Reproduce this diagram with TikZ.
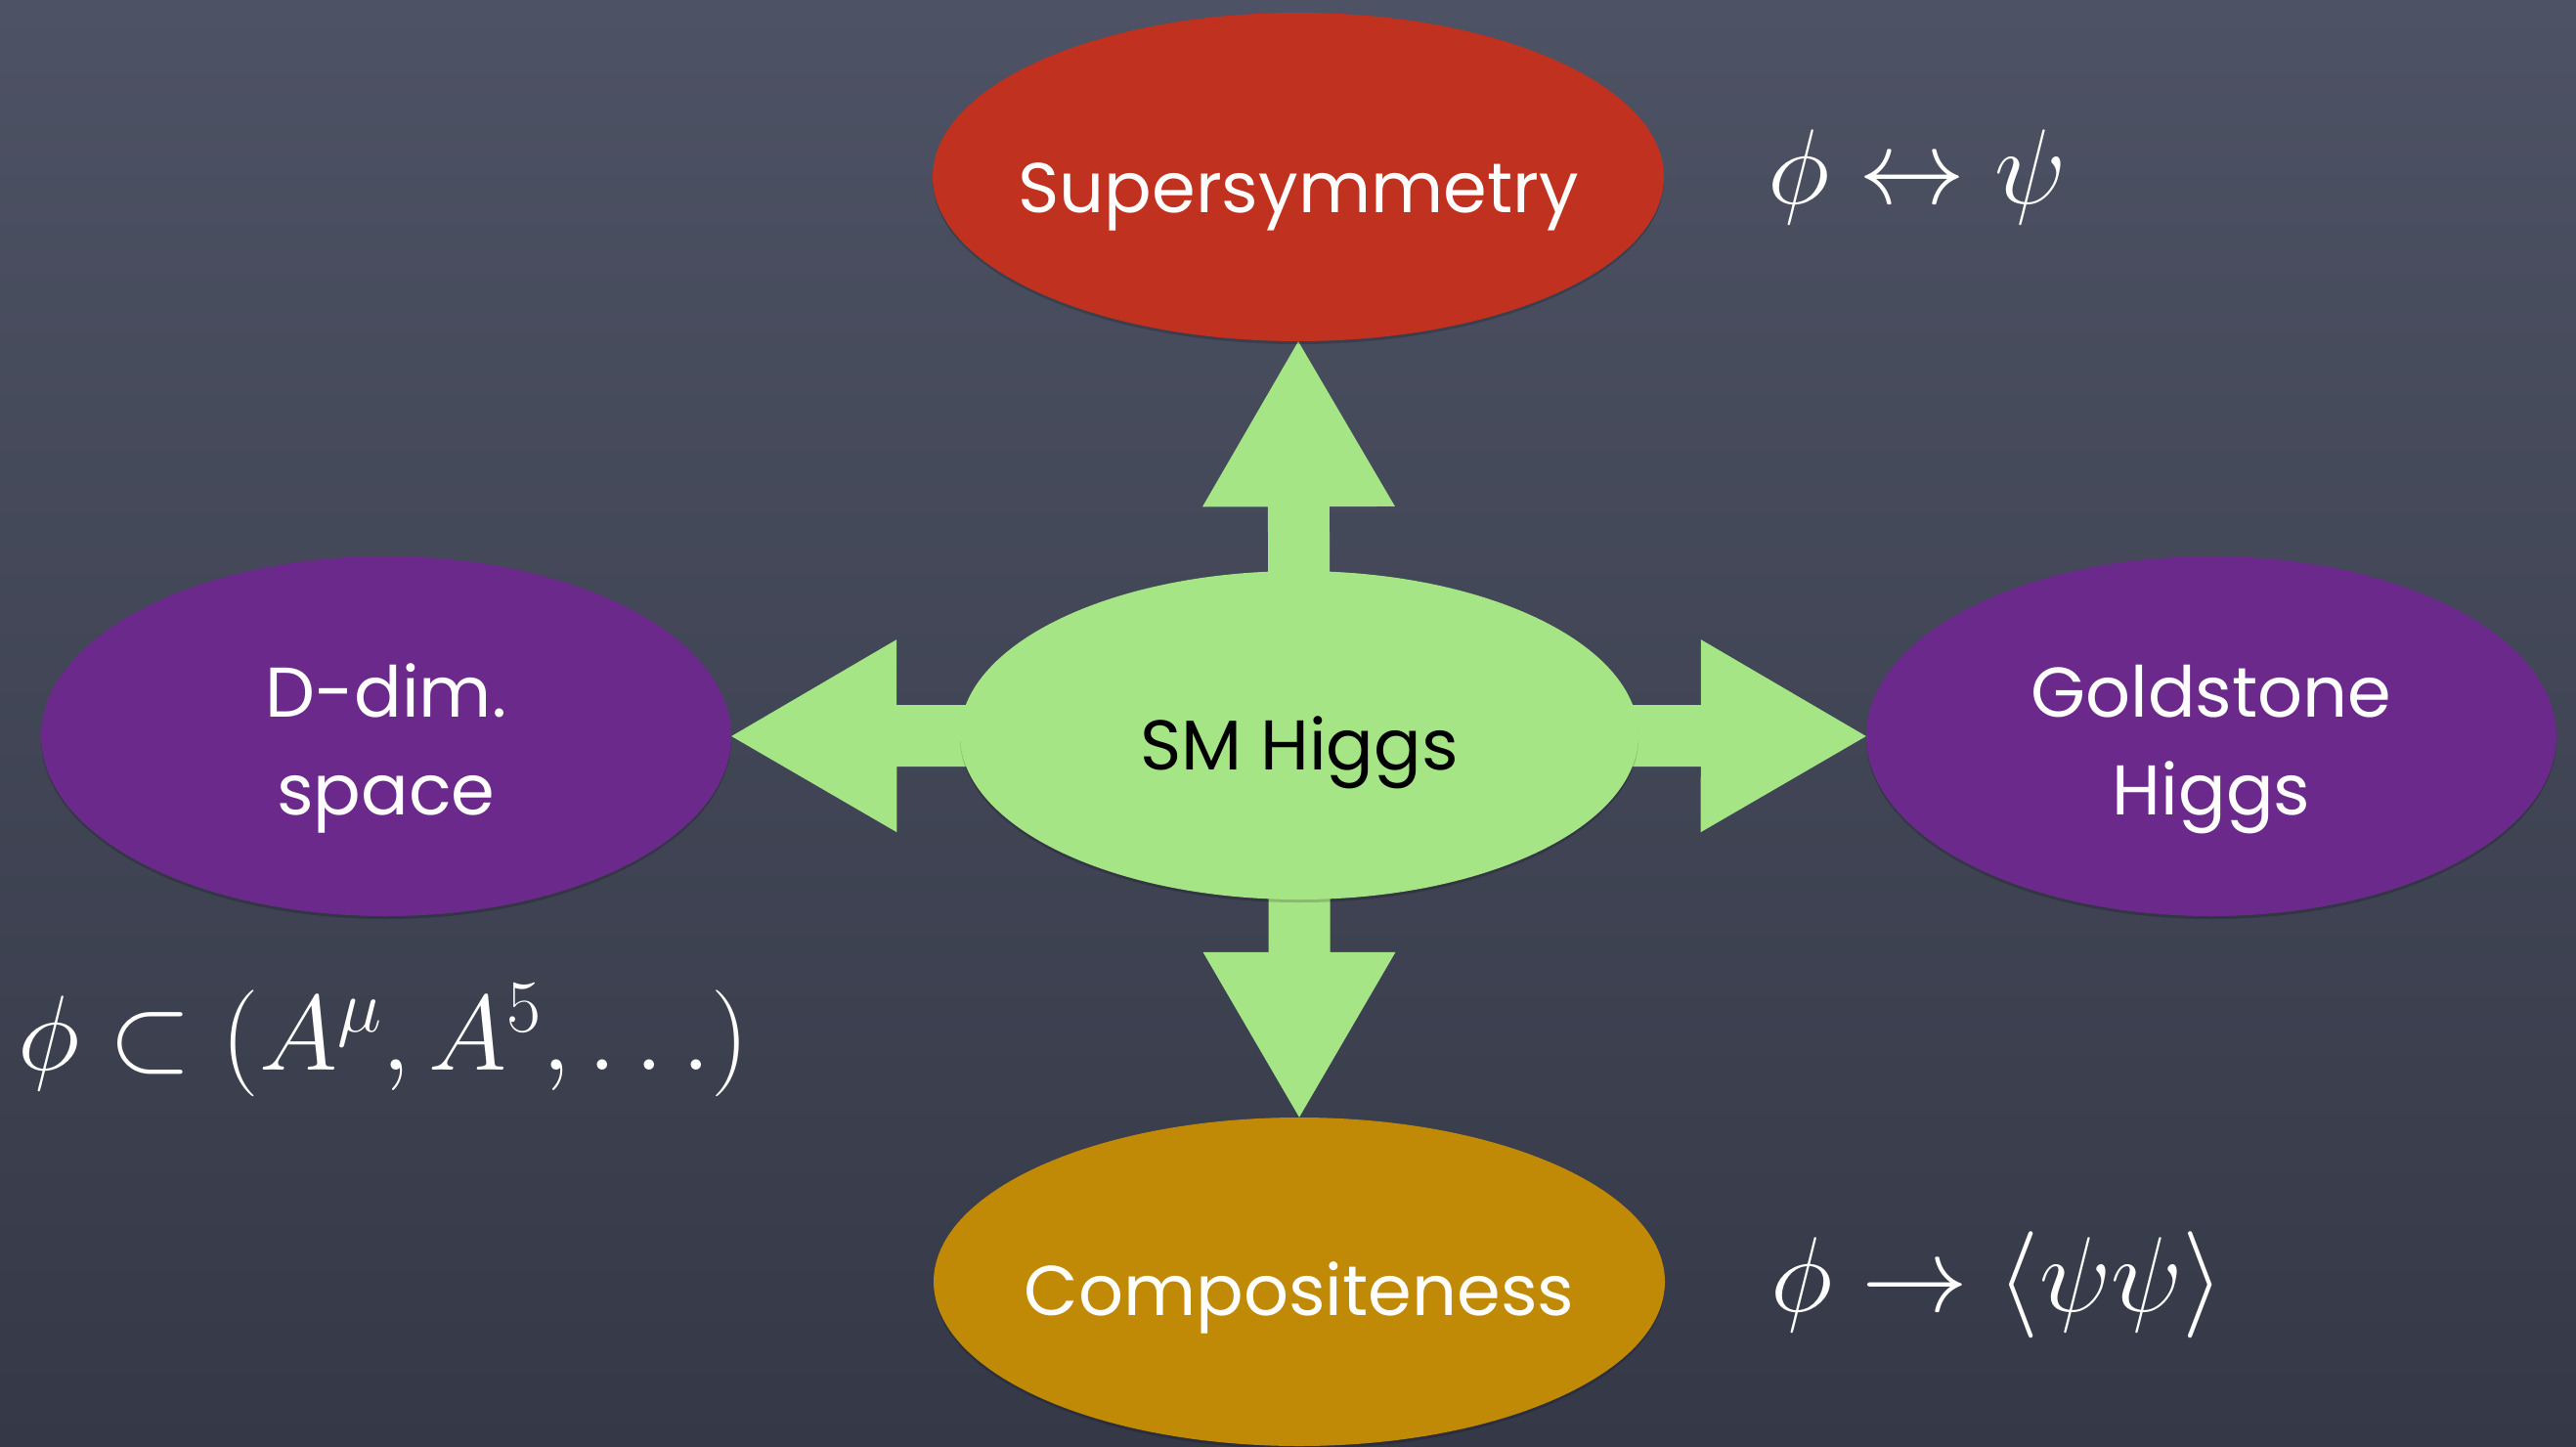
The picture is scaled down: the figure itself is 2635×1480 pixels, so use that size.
\RequirePackage{fix-cm}
\documentclass[tikz,border=0pt]{standalone}
\usepackage{fontspec}
\setmainfont{Poppins}
\usetikzlibrary{calc,shapes.geometric,shadows}
\pgfdeclarelayer{bg}
\pgfdeclarelayer{arr}
\pgfsetlayers{bg,arr,main}
\definecolor{boardtop}{HTML}{4D5264}
\definecolor{boardbot}{HTML}{353947}
\definecolor{susyred}{HTML}{C0321F}
\definecolor{higgsgreen}{HTML}{A6E585}
\definecolor{dimpurple}{HTML}{6B2A8B}
\definecolor{compgold}{HTML}{C18A06}
\newcommand\ellabel[2]{\raisebox{#1}[0pt][0pt]{\makebox[0pt]{#2}}}
\newcommand\twolines[2]{\begin{tabular}[t]{@{}c@{}}#1\\#2\end{tabular}}
\newcommand\fatarrow[2]{%
  \path (#2) coordinate (T) ($(#2)!169pt!(#1)$) coordinate (H);
  \fill[arrowfill] ($(#1)!31.5pt!90:(T)$) -- ($(H)!31.5pt!90:(T)$) -- ($(H)!98.5pt!90:(T)$)
    -- (T) -- ($(H)!98.5pt!-90:(T)$) -- ($(H)!31.5pt!-90:(T)$) -- ($(#1)!31.5pt!-90:(T)$) -- cycle;}
\begin{document}
\begin{tikzpicture}[x=1pt,y=-1pt,
  blob/.style={ellipse, inner sep=0pt, text=white,
    font=\fontsize{72}{100}\selectfont,
    drop shadow={shadow xshift=0pt, shadow yshift=-3pt, opacity=0.18, fill=black}},
  arrowfill/.style={fill=higgsgreen},
  formula/.style={inner sep=0pt, text=white, font=\fontsize{109}{125}\selectfont}]
\begin{pgfonlayer}{bg}
  \shade[top color=boardtop, bottom color=boardbot] (0,0) rectangle (2635,1480);
\end{pgfonlayer}
\useasboundingbox (0,0) rectangle (2635,1480);
% nodes
\node[blob, fill=susyred, minimum width=748pt, minimum height=336pt] (susy) at (1328,181)
  {\ellabel{-36pt}{Supersymmetry}};
\node[blob, fill=higgsgreen, text=black, minimum width=694pt, minimum height=336pt] (sm) at (1329,752)
  {\ellabel{-35pt}{SM Higgs}};
\node[blob, fill=dimpurple, minimum width=706pt, minimum height=368pt] (ddim) at (395,753)
  {\ellabel{20pt}{\twolines{D-dim.}{space}}};
\node[blob, fill=dimpurple, minimum width=706pt, minimum height=368pt] (gold) at (2262,753)
  {\ellabel{20pt}{\twolines{Goldstone}{Higgs}}};
\node[blob, fill=compgold, minimum width=748pt, minimum height=336pt] (comp) at (1329,1311)
  {\ellabel{-34pt}{Compositeness}};
% formulas
\node[formula, anchor=west] (fsusy) at (1808,181) {$\phi\leftrightarrow\psi$};
\node[formula, anchor=west] (fcomp) at (1811,1314) {$\phi\rightarrow\langle\psi\psi\rangle$};
\node[formula, anchor=west] (fdim) at (18,1064) {$\phi\subset(A^{\mu},A^{5},\ldots)$};
% arrows
\begin{pgfonlayer}{arr}
  \fatarrow{sm.center}{susy.south}
  \fatarrow{sm.center}{comp.north}
  \fatarrow{sm.center}{ddim.east}
  \fatarrow{sm.center}{gold.west}
\end{pgfonlayer}
\end{tikzpicture}
\end{document}
